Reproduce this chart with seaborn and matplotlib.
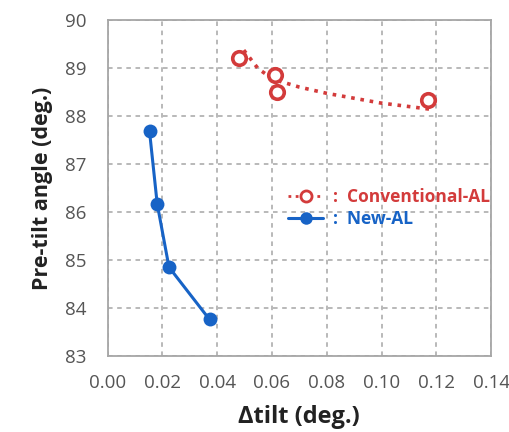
import numpy as np
import pandas as pd
import matplotlib
matplotlib.use("Agg")
import matplotlib.pyplot as plt
from matplotlib.lines import Line2D
import seaborn as sns

# --- data ---
conv_x = [0.048, 0.061, 0.062, 0.117]
conv_y = [89.20, 88.85, 88.50, 88.33]
# dotted trend curve drawn through the conventional points
trend_x = [0.0497, 0.055, 0.0606, 0.070, 0.080, 0.0995, 0.119]
trend_y = [89.37, 88.98, 88.76, 88.60, 88.47, 88.27, 88.13]
new_x = [0.0153, 0.0181, 0.0224, 0.0372]
new_y = [87.68, 86.17, 84.85, 83.76]
x_ticks = [0.00, 0.02, 0.04, 0.06, 0.08, 0.10, 0.12, 0.14]
y_ticks = [83, 84, 85, 86, 87, 88, 89, 90]

RED = "#d33b3b"
BLUE = "#1763c6"
GRID = "#a6a6a6"

sns.set_theme(style="white")
plt.rcParams["font.family"] = ["Open Sans", "DejaVu Sans"]

fig = plt.figure(figsize=(5.1, 4.32), dpi=100)
ax = fig.add_axes([0.211, 0.176, 0.752, 0.778])

conv = pd.DataFrame({"x": conv_x, "y": conv_y})
trend = pd.DataFrame({"x": trend_x, "y": trend_y})
new = pd.DataFrame({"x": new_x, "y": new_y})

sns.lineplot(data=trend, x="x", y="y", ax=ax, sort=False, color=RED,
             linestyle=(0, (1, 1.6)), linewidth=2.6)
sns.scatterplot(data=conv, x="x", y="y", ax=ax, s=95, facecolor="white",
                edgecolor=RED, linewidth=2.6, zorder=4)
sns.lineplot(data=new, x="x", y="y", ax=ax, sort=False, color=BLUE,
             linewidth=2.2, marker="o", markersize=10, markeredgewidth=0,
             zorder=5)

ax.set_xlim(0, 0.14)
ax.set_ylim(83, 90)
ax.set_xticks(x_ticks)
ax.set_yticks(y_ticks)
ax.set_xticklabels([f"{v:.2f}" for v in x_ticks])
ax.tick_params(axis="both", direction="inout", length=8, width=1.1,
               color=GRID, labelsize=13.5, labelcolor="#555555")
ax.tick_params(axis="y", pad=11)
ax.tick_params(axis="x", pad=9)

ax.grid(True, linestyle=(0, (3, 3)), color=GRID, linewidth=1.1)
for s in ax.spines.values():
    s.set_color(GRID)
    s.set_linewidth(1.3)

ax.set_xlabel("Δtilt (deg.)", fontsize=17, fontweight="bold", color="#222222",
              labelpad=9)
ax.set_ylabel("Pre-tilt angle (deg.)", fontsize=15.5, fontweight="bold",
              color="#222222", labelpad=9)

handles = [
    Line2D([], [], color=RED, linestyle=(0, (1, 1.6)), linewidth=2,
           marker="o", markersize=8, markerfacecolor="white",
           markeredgecolor=RED, markeredgewidth=2),
    Line2D([], [], color=BLUE, linewidth=2.2, marker="o", markersize=9,
           markeredgewidth=0),
]
leg = ax.legend(handles, [":  Conventional-AL", ":  New-AL"],
                loc="upper left", bbox_to_anchor=(0.43, 0.545), frameon=False,
                handlelength=2.0, handletextpad=0.6, labelspacing=0.2,
                prop={"weight": "bold", "size": 12.5})
for t, c in zip(leg.get_texts(), [RED, BLUE]):
    t.set_color(c)

fig.savefig("out.png", dpi=100)
